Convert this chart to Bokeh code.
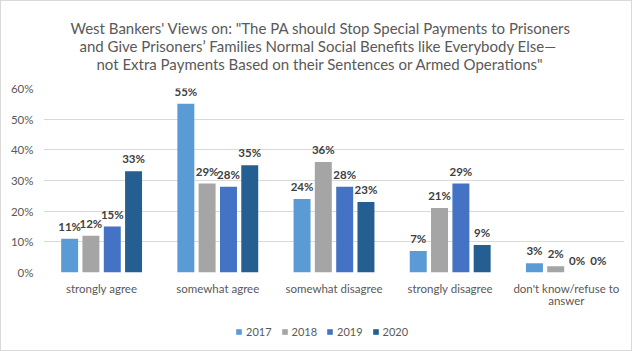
from bokeh.plotting import figure
from bokeh.models import (ColumnDataSource, FactorRange, Title, Legend, LegendItem,
                          NumeralTickFormatter, FixedTicker, Range1d, CategoricalAxis,
                          CustomJSTickFormatter)
from bokeh.layouts import column
from bokeh.transform import dodge
from bokeh.core.properties import value
from bokeh.embed import file_html
from bokeh.resources import INLINE

categories = ["strongly agree", "somewhat agree", "somewhat disagree",
              "strongly disagree", "don't know/refuse to answer"]
label_line1 = ["strongly agree", "somewhat agree", "somewhat disagree",
               "strongly disagree", "don't know/refuse to"]
label_line2 = ["", "", "", "", "answer"]
years = ["2017", "2018", "2019", "2020"]
v2017 = [0.11, 0.55, 0.24, 0.07, 0.03]
v2018 = [0.12, 0.29, 0.36, 0.21, 0.02]
v2019 = [0.15, 0.28, 0.28, 0.29, 0.00]
v2020 = [0.33, 0.35, 0.23, 0.09, 0.00]
series = [v2017, v2018, v2019, v2020]
colors = ["#5B9BD5", "#A5A5A5", "#4472C4", "#255E91"]
title_lines = [
    "West Bankers' Views on: \"The PA should Stop Special Payments to Prisoners",
    "and Give Prisoners\u2019 Families Normal Social Benefits like Everybody Else\u2014",
    "not Extra Payments Based on their Sentences or Armed Operations\"",
]
title_offsets = [27, 36, 53]

FONT = "Lato"
GREY = "#595959"
data = {"cat": categories}
for y, s in zip(years, series):
    data["v" + y] = s
    data["l" + y] = [f"{round(v*100)}%" for v in s]
src = ColumnDataSource(data)

p = figure(x_range=FactorRange(*categories), y_range=Range1d(0, 0.6),
           width=630, height=316, output_backend="svg", toolbar_location=None,
           min_border_left=42, min_border_right=7, min_border_top=87, min_border_bottom=45)
p.outline_line_color = None
p.background_fill_color = "white"
p.border_fill_color = "white"

# spacer between the plot area and the title block
p.add_layout(Title(text=" ", standoff=-3, text_font=FONT, text_font_size="15px"), "above")
for line, off in reversed(list(zip(title_lines, title_offsets))):
    p.add_layout(Title(text=line, align="left", offset=off, standoff=-2, text_font=FONT,
                       text_font_size="15px", text_font_style="normal",
                       text_color=GREY), "above")

offsets = [-0.275, -0.092, 0.092, 0.275]
for y, off, c in zip(years, offsets, colors):
    p.vbar(x=dodge("cat", off, range=p.x_range), top="v" + y, width=0.146,
           source=src, fill_color=c, line_color=None)
    p.text(x=dodge("cat", off, range=p.x_range), y="v" + y, text="l" + y, source=src,
           text_align="center", text_baseline="bottom", y_offset=-6,
           text_font=value(FONT), text_font_size="11.5px", text_font_style="bold",
           text_color="#404040")

p.yaxis.ticker = FixedTicker(ticks=[0, 0.1, 0.2, 0.3, 0.4, 0.5, 0.6])
p.yaxis.formatter = NumeralTickFormatter(format="0%")
js = "const i = cats.indexOf(tick); return i >= 0 ? labels[i] : tick;"
p.xaxis[0].formatter = CustomJSTickFormatter(args=dict(cats=categories, labels=label_line1), code=js)
xaxis2 = CategoricalAxis(formatter=CustomJSTickFormatter(args=dict(cats=categories, labels=label_line2), code=js))
p.add_layout(xaxis2, "below")
for ax in (p.xaxis[0], xaxis2, p.yaxis[0]):
    ax.axis_line_color = None
    ax.major_tick_line_color = None
    ax.minor_tick_line_color = None
    ax.major_tick_out = 0
    ax.major_tick_in = 0
    ax.major_label_text_font = FONT
    ax.major_label_text_font_size = "11.5px"
    ax.major_label_text_color = GREY
p.yaxis.major_label_standoff = 10
p.xaxis[0].major_label_standoff = 9
xaxis2.major_label_standoff = -4
p.xgrid.grid_line_color = None
p.ygrid.grid_line_color = "#D9D9D9"
p.x_range.range_padding = 0

# legend strip (proxy bars fall outside its visible y range)
p2 = figure(x_range=FactorRange(*categories), y_range=Range1d(10, 11), width=630, height=33,
            output_backend="svg", toolbar_location=None, min_border=0)
p2.axis.visible = False
p2.grid.grid_line_color = None
p2.outline_line_color = None
items = []
for y, c in zip(years, colors):
    r = p2.vbar(x="cat", top="v" + y, width=0.1, source=src, fill_color=c, line_color=None)
    items.append(LegendItem(label=y, renderers=[r]))
legend = Legend(items=items, orientation="horizontal", location=(192, 12),
                label_text_font=FONT, label_text_font_size="11px",
                label_text_color=GREY, glyph_width=7, glyph_height=7,
                label_height=14, label_width=20, spacing=9, label_standoff=4,
                border_line_color=None, padding=0, margin=0, background_fill_alpha=0)
p2.add_layout(legend, "center")

layout = column(p, p2, spacing=0)
layout.styles = {"border": "1px solid #D9D9D9"}
open("out.html", "w").write(file_html(layout, INLINE))
